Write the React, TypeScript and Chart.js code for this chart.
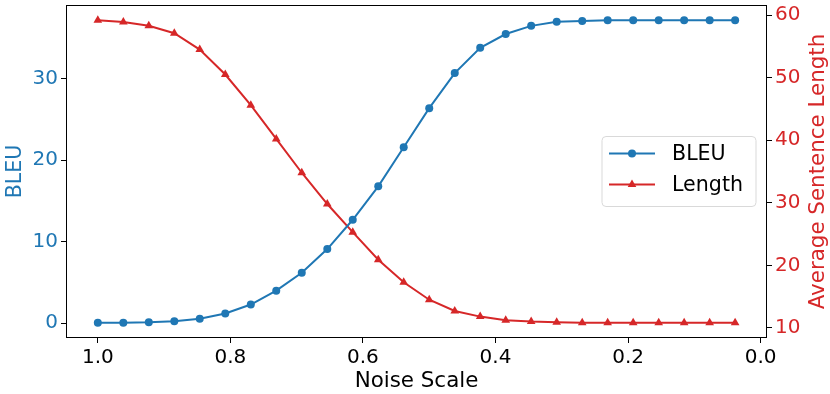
import React, { useEffect, useRef } from "react";
import { Chart, registerables } from "chart.js";

Chart.register(...registerables);

const noiseScale = [
  1.0, 0.9615, 0.9231, 0.8846, 0.8462, 0.8077, 0.7692, 0.7308, 0.6923, 0.6538,
  0.6154, 0.5769, 0.5385, 0.5, 0.4615, 0.4231, 0.3846, 0.3462, 0.3077, 0.2692,
  0.2308, 0.1923, 0.1538, 0.1154, 0.0769, 0.0385,
];
const bleu = [
  0.05, 0.07, 0.12, 0.25, 0.55, 1.2, 2.3, 4.0, 6.2, 9.1, 12.7, 16.8, 21.6, 26.4,
  30.7, 33.8, 35.5, 36.5, 37.0, 37.1, 37.2, 37.2, 37.2, 37.2, 37.2, 37.2,
];
const lengthVals = [
  59.2, 58.9, 58.3, 57.1, 54.5, 50.5, 45.6, 40.2, 34.8, 29.8, 25.3, 20.9, 17.3,
  14.5, 12.7, 11.8, 11.2, 11.0, 10.9, 10.8, 10.8, 10.8, 10.8, 10.8, 10.8, 10.8,
];
const xTicks = [1.0, 0.8, 0.6, 0.4, 0.2, 0.0];
const bleuTicks = [0, 10, 20, 30];
const lengthTicks = [10, 20, 30, 40, 50, 60];

const BLUE = "#1f77b4";
const RED = "#d62728";
const FONT = "'DejaVu Sans', sans-serif";

const framePlugin = {
  id: "frameAndLegend",
  afterDraw(chart: any) {
    const ctx = chart.ctx;
    const a = chart.chartArea;
    ctx.save();
    ctx.strokeStyle = "#000";
    ctx.lineWidth = 1;
    ctx.strokeRect(
      Math.round(a.left) + 0.5,
      Math.round(a.top) + 0.5,
      Math.round(a.right - a.left) - 1,
      Math.round(a.bottom - a.top) - 1
    );
    // right axis title, reading bottom-to-top
    ctx.save();
    ctx.translate(chart.width - 12, (a.top + a.bottom) / 2);
    ctx.rotate(-Math.PI / 2);
    ctx.fillStyle = RED;
    ctx.font = `21.4px ${FONT}`;
    ctx.textAlign = "center";
    ctx.textBaseline = "middle";
    ctx.fillText("Average Sentence Length", 0, 0);
    ctx.restore();
    // legend
    const w = 154;
    const h = 70;
    const x0 = a.right - 11 - w;
    const y0 = (a.top + a.bottom) / 2 - h / 2;
    ctx.beginPath();
    const r = 4;
    ctx.moveTo(x0 + r, y0);
    ctx.lineTo(x0 + w - r, y0);
    ctx.quadraticCurveTo(x0 + w, y0, x0 + w, y0 + r);
    ctx.lineTo(x0 + w, y0 + h - r);
    ctx.quadraticCurveTo(x0 + w, y0 + h, x0 + w - r, y0 + h);
    ctx.lineTo(x0 + r, y0 + h);
    ctx.quadraticCurveTo(x0, y0 + h, x0, y0 + h - r);
    ctx.lineTo(x0, y0 + r);
    ctx.quadraticCurveTo(x0, y0, x0 + r, y0);
    ctx.closePath();
    ctx.fillStyle = "rgba(255,255,255,0.8)";
    ctx.fill();
    ctx.strokeStyle = "#d9d9d9";
    ctx.stroke();
    const rows = [
      { label: "BLEU", color: BLUE, marker: "circle", y: y0 + 17 },
      { label: "Length", color: RED, marker: "triangle", y: y0 + 48 },
    ];
    for (const row of rows) {
      ctx.strokeStyle = row.color;
      ctx.fillStyle = row.color;
      ctx.lineWidth = 2;
      ctx.beginPath();
      ctx.moveTo(x0 + 7, row.y);
      ctx.lineTo(x0 + 53, row.y);
      ctx.stroke();
      const mx = x0 + 30;
      ctx.beginPath();
      if (row.marker === "circle") {
        ctx.arc(mx, row.y, 4, 0, Math.PI * 2);
      } else {
        const rr = 5;
        ctx.moveTo(mx, row.y - rr);
        ctx.lineTo(mx + rr * Math.sin((2 * Math.PI) / 3), row.y + rr / 2);
        ctx.lineTo(mx - rr * Math.sin((2 * Math.PI) / 3), row.y + rr / 2);
        ctx.closePath();
      }
      ctx.fill();
      ctx.fillStyle = "#000";
      ctx.font = `20.6px ${FONT}`;
      ctx.textBaseline = "middle";
      ctx.textAlign = "left";
      ctx.fillText(row.label, x0 + 70, row.y + 1);
    }
    ctx.restore();
  },
};

const tickGrid = {
  drawOnChartArea: false,
  drawTicks: true,
  tickLength: 5,
  tickColor: "#000",
};

export default function App() {
  const ref = useRef<HTMLCanvasElement | null>(null);
  useEffect(() => {
    if (!ref.current) return;
    Chart.defaults.font.family = FONT;
    Chart.defaults.font.size = 20;
    const chart = new Chart(ref.current, {
      type: "line",
      data: {
        datasets: [
          {
            label: "BLEU",
            data: noiseScale.map((x, i) => ({ x, y: bleu[i] })),
            borderColor: BLUE,
            backgroundColor: BLUE,
            borderWidth: 2,
            pointStyle: "circle",
            pointRadius: 4,
            pointBorderWidth: 0,
            yAxisID: "y",
          },
          {
            label: "Length",
            data: noiseScale.map((x, i) => ({ x, y: lengthVals[i] })),
            borderColor: RED,
            backgroundColor: RED,
            borderWidth: 2,
            pointStyle: "triangle",
            pointRadius: 5,
            pointBorderWidth: 0,
            yAxisID: "y1",
          },
        ],
      },
      options: {
        responsive: false,
        animation: false,
        layout: { padding: { top: 4, left: 0, right: 0, bottom: 0 } },
        plugins: { legend: { display: false }, tooltip: { enabled: false } },
        scales: {
          x: {
            type: "linear",
            reverse: true,
            min: -0.0096,
            max: 1.048,
            afterBuildTicks: (s: any) => {
              s.ticks = xTicks.map((v) => ({ value: v }));
            },
            afterFit: (s: any) => {
              s.height = 56;
              s.paddingLeft = 0;
              s.paddingRight = 0;
            },
            ticks: {
              color: "#000",
              padding: 3,
              maxRotation: 0,
              callback: (v: any) => Number(v).toFixed(1),
              font: { size: 20 },
            },
            grid: tickGrid,
            border: { display: false },
            title: {
              display: true,
              text: "Noise Scale",
              color: "#000",
              font: { size: 21.4 },
              padding: { top: 0, bottom: 0 },
            },
          },
          y: {
            type: "linear",
            position: "left",
            min: -1.81,
            max: 39.06,
            afterBuildTicks: (s: any) => {
              s.ticks = bleuTicks.map((v) => ({ value: v }));
            },
            afterFit: (s: any) => {
              s.width = 66;
              s.paddingTop = 0;
              s.paddingBottom = 0;
            },
            ticks: { color: BLUE, padding: 3, font: { size: 20 } },
            grid: tickGrid,
            border: { display: false },
            title: {
              display: true,
              text: "BLEU",
              color: BLUE,
              font: { size: 20.6 },
              padding: { top: 3, bottom: 0 },
            },
          },
          y1: {
            type: "linear",
            position: "right",
            min: 8.38,
            max: 61.62,
            afterBuildTicks: (s: any) => {
              s.ticks = lengthTicks.map((v) => ({ value: v }));
            },
            afterFit: (s: any) => {
              s.width = 63;
              s.paddingTop = 0;
              s.paddingBottom = 0;
            },
            ticks: { color: RED, padding: 3, font: { size: 20 } },
            grid: tickGrid,
            border: { display: false },
            title: { display: false },
          },
        },
      },
      plugins: [framePlugin],
    } as any);
    return () => chart.destroy();
  }, []);
  return (
    <div style={{ position: "fixed", left: 0, top: 0, width: 830, height: 394 }}>
      <canvas ref={ref} width={830} height={394} />
    </div>
  );
}
